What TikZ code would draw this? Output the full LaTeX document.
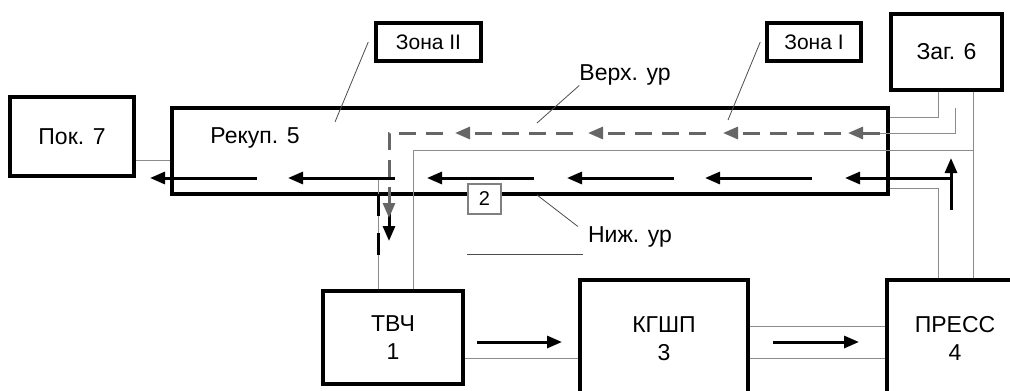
\documentclass[tikz,border=0pt]{standalone}
\usepackage{fontspec}
\setmainfont{Liberation Sans}
\usetikzlibrary{arrows.meta}

\begin{document}
\begin{tikzpicture}[x=1pt, y=-1pt, >={Triangle[length=15pt,width=12pt]},
  box/.style={draw, line width=3.5pt, inner sep=0pt, align=center, font=\fontsize{23}{28}\selectfont},
  lbl/.style={inner sep=0pt, font=\fontsize{23}{28}\selectfont},
  thinln/.style={black!45, line width=1pt},
  leader/.style={black!70, line width=0.8pt},
  flow/.style={->, line width=3pt},
  upflow/.style={->, black!60, line width=3pt, dash pattern=on 17pt off 10pt}]
\useasboundingbox (0,0) rectangle (1010,391);
\clip (0,0) rectangle (1010,391);
\node[box, minimum width=124pt, minimum height=79pt] (pok) at (72,136.5) {Пок. 7};
\node[box, minimum width=716pt, minimum height=86pt] (rekup) at (530,151) {};
\node[lbl] (rekuptxt) at (255,138) {Рекуп. 5};
\node[box, minimum width=105pt, minimum height=38pt, font=\fontsize{21}{25}\selectfont] (zona2) at (428.5,42) {Зона II};
\node[box, minimum width=94pt, minimum height=38pt, font=\fontsize{21}{25}\selectfont] (zona1) at (814,42) {Зона I};
\node[box, minimum width=111pt, minimum height=76pt] (zag) at (946.5,52) {Заг. 6};
\node[box, minimum width=140pt, minimum height=93pt] (tvch) at (393,337.5) {ТВЧ\\1};
\node[box, minimum width=168pt, minimum height=117pt] (kgshp) at (664,338.5) {КГШП\\3};
\node[box, minimum width=136pt, minimum height=117pt] (press) at (955,338.5) {ПРЕСС\\4};
\node[lbl] (verh) at (625,75) {Верх. ур};
\node[lbl] (nizh) at (630,237) {Ниж. ур};

\draw[thinln] (pok.east |- 0,160) -- (rekup.west |- 0,160);
\draw[thinln] (378,0 |- tvch.north) -- (378,178);
\draw[thinln] (413,0 |- tvch.north) |- (973,150);
\draw[thinln] (973,0 |- zag.south) -- (973,0 |- press.north);
\draw[thinln] (938,0 |- zag.south) |- (rekup.east |- 0,117);
\draw[thinln] (955,108) |- (880,133);
\draw[thinln] (rekup.east |- 0,188) -| (938,0 |- press.north);
\draw[thinln] (tvch.east |- 0,358) -- (kgshp.west |- 0,358);
\draw[thinln] (kgshp.east |- 0,326) -- (press.west |- 0,326);
\draw[thinln] (kgshp.east |- 0,358) -- (press.west |- 0,358);
\draw[leader] (467,254) -- (583,254);

\draw[leader] ([xshift=-6pt]zona2.west) -- (335,122);
\draw[leader] ([xshift=-5pt]zona1.west) -- (728,120);
\draw[leader] (verh.south west) -- (537,123);
\draw[leader] ([xshift=-10pt]nizh.north west) -- (537,195);

\foreach \t in {150,288,427,567,705,845}
  \draw[flow] ({\t+107},178) -- (\t,178);
\draw[flow] (951,210) -- (951,158);
\draw[line width=3pt, dash pattern=on 22pt off 17pt] (378,194) -- (378,257);
\draw[flow] (389,205) -- (389,241);

\foreach \t in {455,588,723}
  \draw[upflow] ({\t+118},133) -- (\t,133);
\draw[upflow] (880,133) -- (848,133);
\draw[upflow] (443,133) -| (389,218);

\node[draw=black!50, line width=1.5pt, fill=white, minimum width=33pt, minimum height=30pt, inner sep=0pt, font=\fontsize{20}{24}\selectfont] (two) at (484.5,199) {2};

\draw[flow] (477,342) -- (562,342);
\draw[flow] (773,342) -- (859,342);
\end{tikzpicture}
\end{document}
